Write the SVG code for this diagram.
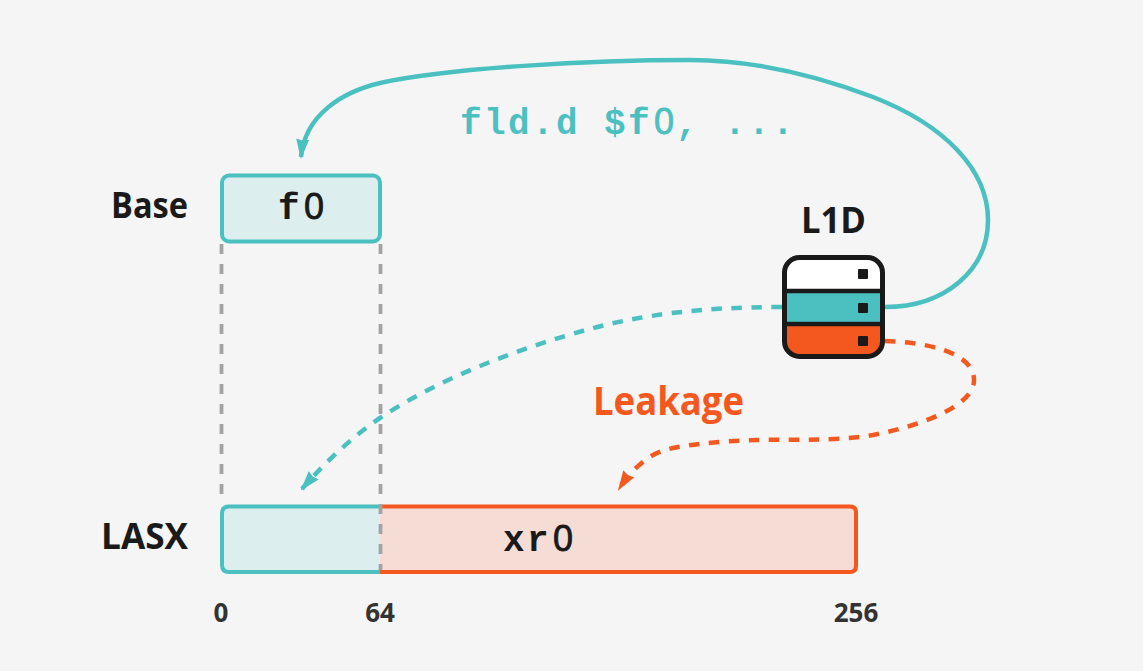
<svg xmlns="http://www.w3.org/2000/svg" width="1143" height="671" viewBox="0 0 1143 671">
<defs>
<marker id="at" markerUnits="userSpaceOnUse" markerWidth="22" markerHeight="14" refX="18" refY="7" orient="auto"><path d="M0 0.500L20 7L0 13.500L1.500 7Z" fill="#4bc0c0"/></marker>
<marker id="ao" markerUnits="userSpaceOnUse" markerWidth="22" markerHeight="14" refX="18" refY="7" orient="auto"><path d="M0 0.500L20 7L0 13.500L1.500 7Z" fill="#f4581e"/></marker>
</defs>
<style>
.s{font-family:"Open Sans","Noto Sans","Liberation Sans",sans-serif;font-weight:700;fill:#1a1a1a}
.m{font-family:"Liberation Mono","Courier New",monospace;font-weight:700;font-size:36px;letter-spacing:2.4px;fill:#1a1a1a}
.z{font-family:"Liberation Sans",Arial,sans-serif;font-weight:400;letter-spacing:2px;stroke:#1a1a1a;stroke-width:.8px}
.n{font-size:26px;fill:#333}
.c{fill:none;stroke-width:4.500px}
.t{stroke:#4bc0c0}
.o{stroke:#f4581e}
.d{stroke-dasharray:10.500 9.500}
.g{fill:none;stroke:#a3a3a3;stroke-width:3.800px;stroke-dasharray:10 10}
</style>
<rect width="1143" height="671" fill="#f5f5f5"/>
<g id="connectors">
<path class="c t" d="M885 307C945 307 988 270 988 220C988 170 945 125 873 97C815 75 755 60 690 60C590 60 450 68 380 83C342 92 305 115 301 157" marker-end="url(#at)"/>
<path class="c t d" d="M782 307C700 307 640 315 586 330C520 348 440 378 380 418C350 438 320 468 302 489" marker-end="url(#at)"/>
<path class="c o d" d="M885 341C925 342 975 352 974 381C973 405 925 425 873 435C830 442 780 439 757 440C720 441 680 445 662 451C645 457 630 472 619 489" marker-end="url(#ao)"/>
</g>
<g id="base">
<rect x="222" y="175.500" width="158" height="66" rx="7" fill="#ddeeee" stroke="#4bc0c0" stroke-width="4"/>
<text class="m" x="278" y="219">f<tspan class="z" dx="2">0</tspan></text>
<text class="s" x="111" y="218" font-size="36" textLength="77" lengthAdjust="spacingAndGlyphs">Base</text>
</g>
<g id="lasx">
<path d="M380 506.500H850Q856 506.500 856 512.500V566Q856 572 850 572H380Z" fill="#f5ddd6"/>
<path d="M380 506.500H229Q222 506.500 222 513.500V565Q222 572 229 572H380Z" fill="#ddeeee"/>
<path d="M380 506.500H850Q856 506.500 856 512.500V566Q856 572 850 572H380" fill="none" stroke="#f4581e" stroke-width="4"/>
<path d="M380 506.500H229Q222 506.500 222 513.500V565Q222 572 229 572H380" fill="none" stroke="#4bc0c0" stroke-width="4"/>
<text class="m" x="503" y="551">xr<tspan class="z" dx="2">0</tspan></text>
<text class="s" x="101" y="549" font-size="36" textLength="87" lengthAdjust="spacingAndGlyphs">LASX</text>
</g>
<g id="guides">
<path class="g" d="M221.500 244V504M380.500 244V570"/>
</g>
<g id="l1d">
<path d="M784 325V342Q784 357 799 357H868Q883 357 883 342V325Z" fill="#f4581e"/>
<rect x="784" y="291" width="99" height="34" fill="#4bc0c0"/>
<path d="M784 291V275Q784 258 799 258H868Q883 258 883 275V291Z" fill="#fff"/>
<rect x="784.500" y="257.500" width="98" height="99" rx="15" fill="none" stroke="#1a1a1a" stroke-width="5"/>
<path d="M784 291H883M784 324H883" stroke="#1a1a1a" stroke-width="4.500"/>
<rect x="858" y="269" width="10" height="10" rx="1" fill="#1a1a1a"/>
<rect x="858" y="303" width="10" height="10" rx="1" fill="#1a1a1a"/>
<rect x="858" y="336" width="10" height="10" rx="1" fill="#1a1a1a"/>
<text class="s" x="801" y="233" font-size="36" textLength="65" lengthAdjust="spacingAndGlyphs">L1D</text>
</g>
<g id="labels">
<text class="m" x="460" y="134" style="fill:#4bc0c0">fld.d $f<tspan class="z" dx="2" style="stroke:#4bc0c0">0</tspan>, ...</text>
<text class="s" x="593" y="415" font-size="39" textLength="151" lengthAdjust="spacingAndGlyphs" style="fill:#f4581e">Leakage</text>
<text class="s n" x="221" y="622" text-anchor="middle">0</text>
<text class="s n" x="380" y="622" text-anchor="middle">64</text>
<text class="s n" x="856" y="622" text-anchor="middle">256</text>
</g>
</svg>
